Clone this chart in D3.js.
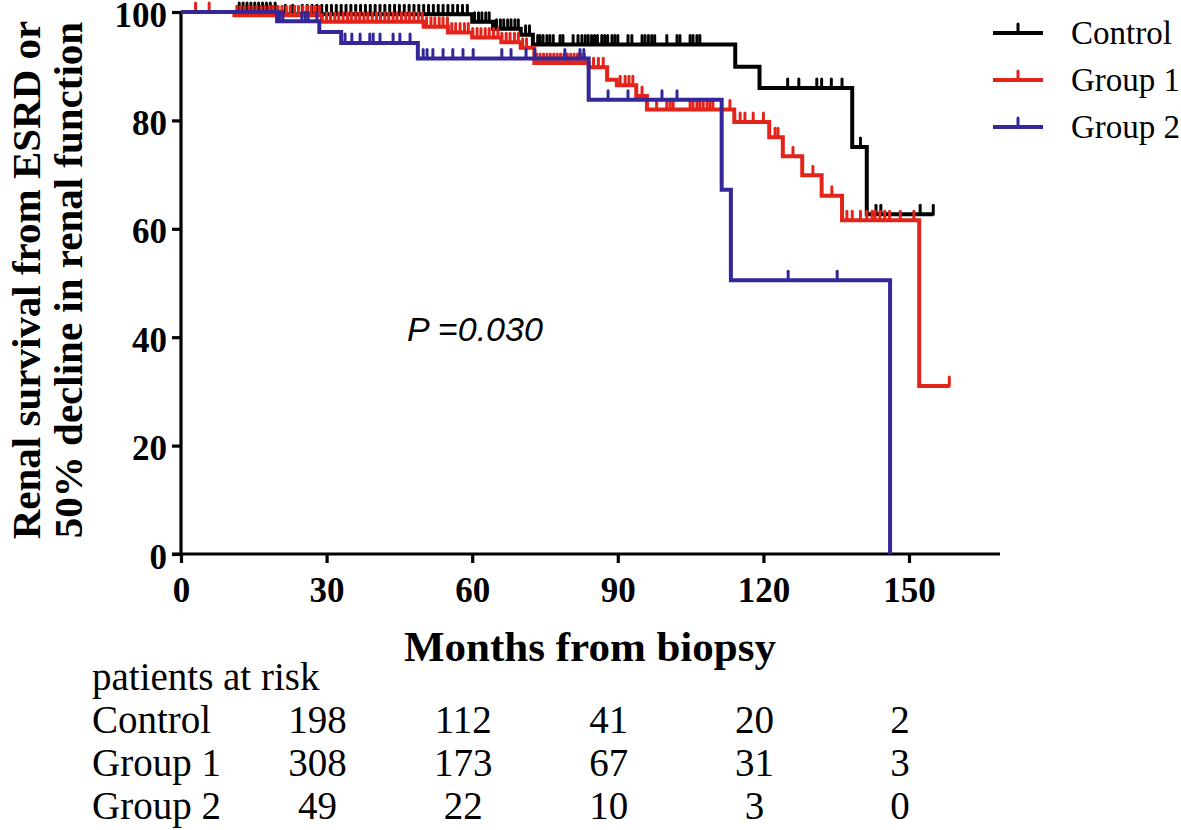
<!DOCTYPE html>
<html><head><meta charset="utf-8">
<script src="https://cdn.jsdelivr.net/npm/d3@7"></script>
<style>html,body{margin:0;padding:0;background:#fff;}svg{display:block;}</style>
</head><body>
<svg id="c" width="1181" height="830"></svg>
<script>
// ---- data ----
const groups = ["Control", "Group 1", "Group 2"];
const colors = ["#000000", "#e3241b", "#33279a"];

// step curves: event times (months) and survival (%) after each event
const ctrlT = [0, 21, 60, 64.3, 70, 72.5, 114.2, 119.2, 138.3, 141.3, 155];
const ctrlS = [100, 99.6, 98.2, 96.9, 95.8, 94.0, 89.9, 86.0, 75.1, 62.7, 62.7];
const g1T = [0, 11, 29, 50, 55, 60, 66, 70, 72.8, 84, 87.8, 89.8, 93.8, 96, 114, 121.2, 124, 128, 132, 136.2, 152.1, 158.3];
const g1S = [100, 99.4, 98.2, 97.3, 96.2, 95.3, 94.4, 93.4, 90.6, 89.8, 87.5, 86.5, 84.5, 82.0, 79.7, 76.9, 73.4, 69.9, 66.1, 61.6, 31.0, 31.0];
const g2T = [0, 19.8, 28.5, 33, 48.8, 84, 111.4, 113.3, 146.1];
const g2S = [100, 98.3, 96.3, 94.3, 91.4, 83.8, 67.2, 50.5, 0];

// censored observations (months)
const ctrlCens = [12, 12.8, 13.6, 14.4, 15.2, 16, 16.8, 17.6, 18.4, 19.4, 21.5, 23, 25, 26, 27, 28, 29, 30, 31, 32, 33, 34, 35, 36, 37, 38, 39, 40, 41, 42, 43, 44, 45, 46, 47, 48, 49, 50, 51, 52, 53, 54, 55, 56, 57, 58, 59, 60.5, 61.3, 62, 62.8, 63.5, 65, 65.8, 66.5, 67.3, 68, 68.8, 69.5, 71, 71.8, 73.5, 74, 74.6, 75.4, 76, 76.7, 78.1, 78.7, 80.8, 81.8, 82.6, 83.3, 83.9, 84.6, 85.2, 85.8, 86.7, 87.3, 87.9, 88.8, 89.4, 90, 92.1, 92.9, 95, 95.6, 96.3, 97, 97.6, 100.1, 102.2, 102.8, 104.9, 105.5, 106.3, 106.9, 125, 127.3, 131, 132, 134, 136.2, 140, 143.2, 144.2, 152.3, 155];
const g1Cens = [3, 5.8, 11.5, 12.3, 13.1, 14, 14.8, 15.6, 16.5, 17.3, 18.2, 19, 20, 20.8, 21.7, 22.5, 23.4, 24.2, 25.1, 26, 26.8, 27.7, 28.5, 30, 30.8, 31.7, 32.5, 33.4, 34.3, 35.1, 36, 36.8, 37.7, 38.5, 39.4, 40.3, 41.1, 42, 42.8, 43.7, 44.5, 45.4, 46.3, 47.1, 48, 48.9, 49.7, 50.6, 51.5, 52.3, 53.2, 54, 54.9, 55.8, 56.6, 57.5, 58.4, 59.2, 60.1, 61, 61.8, 62.7, 63.5, 64.4, 65.3, 66.1, 67, 67.8, 68.7, 69.5, 70.4, 71.2, 73.3, 74, 74.7, 75.4, 76.1, 76.8, 77.5, 78.2, 78.9, 79.6, 80.3, 81, 81.7, 82.4, 83.1, 85, 86, 87, 90.5, 91.5, 92.3, 93.1, 95, 98, 100.1, 100.8, 101.4, 104.9, 105.5, 106.3, 106.9, 107.6, 108.4, 109, 109.6, 113.1, 115.2, 116.2, 117.9, 120, 122.4, 123, 126.1, 130.2, 134.1, 137.2, 138.3, 140, 141.3, 142.4, 143, 144, 145, 146, 148.2, 151, 158.3];
const g2Cens = [20.4, 21.0, 24.9, 25.6, 26.2, 28.0, 33.8, 35.2, 36.9, 38.9, 39.6, 41.0, 43.7, 45.1, 47.2, 49.9, 50.7, 51.9, 54.0, 56.0, 58.1, 60.2, 66.1, 68.0, 71.1, 72.9, 79.1, 82.2, 83.0, 88, 92.1, 99.1, 102.2, 125.1, 135.2];

const xTicks = [0, 30, 60, 90, 120, 150];
const yTicks = [0, 20, 40, 60, 80, 100];
const riskTimes = [30, 60, 90, 120, 150];
const riskCtrl = [198, 112, 41, 20, 2];
const riskG1 = [308, 173, 67, 31, 3];
const riskG2 = [49, 22, 10, 3, 0];
const pText = "P =0.030";

// ---- layout ----
const svg = d3.select("#c");
const x = d3.scaleLinear().domain([0, 168.75]).range([181, 1000]);
const y = d3.scaleLinear().domain([0, 100]).range([554, 12]);
const serif = "'Liberation Serif','Times New Roman',serif";

const series = [
  {T: ctrlT, S: ctrlS, C: ctrlCens},
  {T: g1T, S: g1S, C: g1Cens},
  {T: g2T, S: g2S, C: g2Cens}
];

function survAt(s, t) {
  let v = s.S[0];
  for (let i = 0; i < s.T.length; i++) { if (s.T[i] <= t) v = s.S[i]; }
  return v;
}

const line = d3.line().x(d => x(d[0])).y(d => y(d[1])).curve(d3.curveStepAfter);

// axes
const xAxis = svg.append("g").attr("transform", "translate(0,554)")
  .call(d3.axisBottom(x).tickValues(xTicks).tickSize(9).tickSizeOuter(0).tickFormat(d3.format("d")));
const yAxis = svg.append("g").attr("transform", "translate(181,0)")
  .call(d3.axisLeft(y).tickValues(yTicks).tickSize(9).tickSizeOuter(0).tickFormat(d3.format("d")));
[xAxis, yAxis].forEach(a => {
  a.select(".domain").attr("stroke", "#000").attr("stroke-width", 3.2);
  a.selectAll(".tick line").attr("stroke", "#000").attr("stroke-width", 3.2);
  a.selectAll(".tick text").attr("fill", "#000").attr("font-family", serif)
    .attr("font-weight", "bold").attr("font-size", 35);
});
xAxis.select(".domain").attr("d", "M172,0H1000");
yAxis.select(".domain").attr("d", "M0,12V556");
xAxis.selectAll(".tick text").attr("y", 0).attr("dy", 48);
yAxis.selectAll(".tick text").attr("x", -14).attr("dy", "0.4em");

// curves
series.forEach((s, i) => {
  const pts = s.T.map((t, k) => [t, s.S[k]]);
  svg.append("path").attr("d", line(pts)).attr("fill", "none")
    .attr("stroke", colors[i]).attr("stroke-width", 4).attr("stroke-linejoin", "miter");
  svg.append("g").selectAll("line").data(s.C).join("line")
    .attr("x1", d => x(d)).attr("x2", d => x(d))
    .attr("y1", d => y(survAt(s, d))).attr("y2", d => y(survAt(s, d)) - 9)
    .attr("stroke", colors[i]).attr("stroke-width", 3).attr("stroke-linecap", "round");
});

// P value
svg.append("text").attr("x", 407).attr("y", 341).text(pText)
  .attr("font-family", "'Liberation Sans',Arial,sans-serif").attr("font-style", "italic")
  .attr("font-size", 34).attr("fill", "#000");

// legend
groups.forEach((g, i) => {
  const ly = 33 + i * 47;
  svg.append("line").attr("x1", 993).attr("x2", 1043).attr("y1", ly).attr("y2", ly)
    .attr("stroke", colors[i]).attr("stroke-width", 4);
  svg.append("line").attr("x1", 1018).attr("x2", 1018).attr("y1", ly).attr("y2", ly - 9)
    .attr("stroke", colors[i]).attr("stroke-width", 3).attr("stroke-linecap", "round");
  svg.append("text").attr("x", 1071).attr("y", ly + 11).text(g)
    .attr("font-family", serif).attr("font-size", 33).attr("fill", "#000");
});

// axis titles
svg.append("text").attr("x", 590).attr("y", 661).attr("text-anchor", "middle")
  .text("Months from biopsy").attr("font-family", serif).attr("font-weight", "bold")
  .attr("font-size", 43).attr("fill", "#000");
const yt = svg.append("text").attr("transform", "translate(0,280) rotate(-90)")
  .attr("text-anchor", "middle").attr("font-family", serif).attr("font-weight", "bold")
  .attr("font-size", 41).attr("fill", "#000");
yt.append("tspan").attr("x", 0).attr("y", 40).text("Renal survival from ESRD or");
yt.append("tspan").attr("x", 0).attr("y", 82).text("50% decline in renal function");

// patients at risk table
svg.append("text").attr("x", 92).attr("y", 690).text("patients at risk")
  .attr("font-family", serif).attr("font-size", 39).attr("fill", "#000");
const rows = [riskCtrl, riskG1, riskG2];
rows.forEach((r, i) => {
  const by = 733 + i * 43;
  svg.append("text").attr("x", 92).attr("y", by).text(groups[i])
    .attr("font-family", serif).attr("font-size", 39).attr("fill", "#000");
  svg.append("g").selectAll("text").data(r).join("text")
    .attr("x", (d, k) => x(riskTimes[k]) - 9).attr("y", by).attr("text-anchor", "middle")
    .text(d => d).attr("font-family", serif).attr("font-size", 39).attr("fill", "#000");
});
</script>
</body></html>
